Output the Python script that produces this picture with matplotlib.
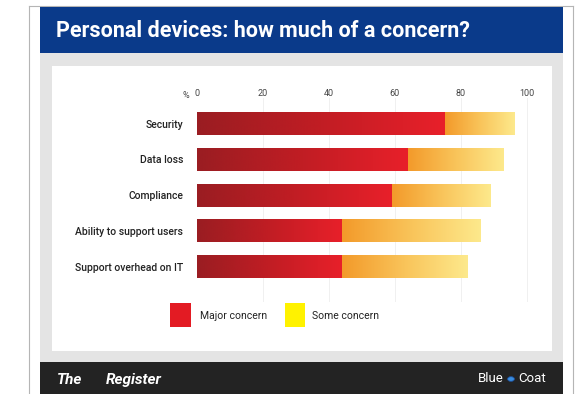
import numpy as np
import matplotlib.pyplot as plt
from matplotlib.colors import LinearSegmentedColormap
from matplotlib.patches import Rectangle

categories = ["Security", "Data loss", "Compliance",
              "Ability to support users", "Support overhead on IT"]
major = [75, 64, 59, 44, 44]
some = [21, 29, 30, 42, 38]
ticks = [0, 20, 40, 60, 80, 100]

plt.rcParams['font.family'] = ['Roboto', 'DejaVu Sans']

W, H = 579, 394
fig = plt.figure(figsize=(W / 100, H / 100), dpi=100)
fig.patch.set_facecolor('white')


def px(x, y, w, h):
    # pixel box (top-left origin) -> figure fraction
    return (x / W, 1 - (y + h) / H, w / W, h / H)


def frect(x, y, w, h, color, z=-5):
    l, b, ww, hh = px(x, y, w, h)
    fig.patches.append(Rectangle((l, b), ww, hh, transform=fig.transFigure,
                                 facecolor=color, edgecolor='none', zorder=z))


def fline(xs, ys):
    fig.lines.append(plt.Line2D([v / W for v in xs], [1 - v / H for v in ys],
                                transform=fig.transFigure, color='#b5b5b5', lw=0.8, zorder=-6))


# frame
fline([29, 29], [5.5, 394])
fline([29, 573], [5.5, 5.5])
fline([573, 573], [5.5, 394])

frect(40, 7, 523, 46, '#0a3a8a')          # header
frect(40, 53, 523, 310, '#e4e4e4')        # grey surround
frect(52, 66, 500, 285, '#ffffff')        # white panel
frect(40, 362, 523, 32, '#232323')        # footer

fig.text(56 / W, 1 - 31 / H, "Personal devices: how much of a concern?",
         color='white', fontsize=15.5, fontweight='bold', va='center', ha='left')

fig.text(57 / W, 1 - 380 / H, "The", color='white', fontsize=11,
         fontweight='bold', fontstyle='italic', va='center', ha='left')
fig.text(106 / W, 1 - 380 / H, "Register", color='white', fontsize=11,
         fontweight='bold', fontstyle='italic', va='center', ha='left')
fig.text(504 / W, 1 - 379 / H, "Blue", color='white', fontsize=9.5,
         va='center', ha='right')
fig.text(518 / W, 1 - 379 / H, "Coat", color='white', fontsize=9.5,
         va='center', ha='left')
fig.patches.append(plt.Circle((511 / W, 1 - 379 / H), 3.4 / W, transform=fig.transFigure,
                              facecolor='#3a8ee0', edgecolor='#1d4f9a', lw=0.6))

# chart
ax = fig.add_axes(px(197, 104, 330, 186))
ax.set_zorder(2)
ax.set_facecolor('none')
y = np.arange(len(categories))

cmap_major = LinearSegmentedColormap.from_list('major', ['#9a1d22', '#c11d24', '#e8202a'])
cmap_some = LinearSegmentedColormap.from_list('some', ['#f39a2a', '#f9c45a', '#fde98c'])
grad = np.linspace(0, 1, 256).reshape(1, -1)

bars_major = ax.barh(y, major, height=0.64, color='none', zorder=2)
bars_some = ax.barh(y, some, left=major, height=0.64, color='none', zorder=2)
for bars, cm in ((bars_major, cmap_major), (bars_some, cmap_some)):
    for b in bars:
        x0, y0, w, h = b.get_x(), b.get_y(), b.get_width(), b.get_height()
        ax.imshow(grad, cmap=cm, aspect='auto', extent=(x0, x0 + w, y0 + h, y0),
                  zorder=2, interpolation='bicubic')
ax.set_xlim(0, 100)
ax.set_ylim(4.65, -0.55)

ax.set_xticks(ticks)
ax.xaxis.tick_top()
ax.tick_params(axis='x', length=0, pad=4, labelsize=6.5, labelcolor='#444444')
ax.set_yticks(y)
ax.set_yticklabels(categories, fontweight='medium')
ax.tick_params(axis='y', length=0, pad=10, labelsize=7.5, labelcolor='#222222')
for s in ax.spines.values():
    s.set_visible(False)
for t in ticks[1:]:
    ax.axvline(t, ymin=-0.06, ymax=1.03, color='#f0f0f0', lw=0.7, zorder=1, clip_on=False)
fig.text(189 / W, 1 - 96 / H, "%", fontsize=6.5, color='#444444', ha='right', va='center')

# legend
frect(170, 303, 21, 24, '#e31b23', z=3)
fig.text(200 / W, 1 - 316 / H, "Major concern", fontsize=7.5, color='#222222', va='center')
frect(285, 303, 20, 24, '#fff200', z=3)
fig.text(312 / W, 1 - 316 / H, "Some concern", fontsize=7.5, color='#222222', va='center')

fig.savefig('out.png', dpi=100)
